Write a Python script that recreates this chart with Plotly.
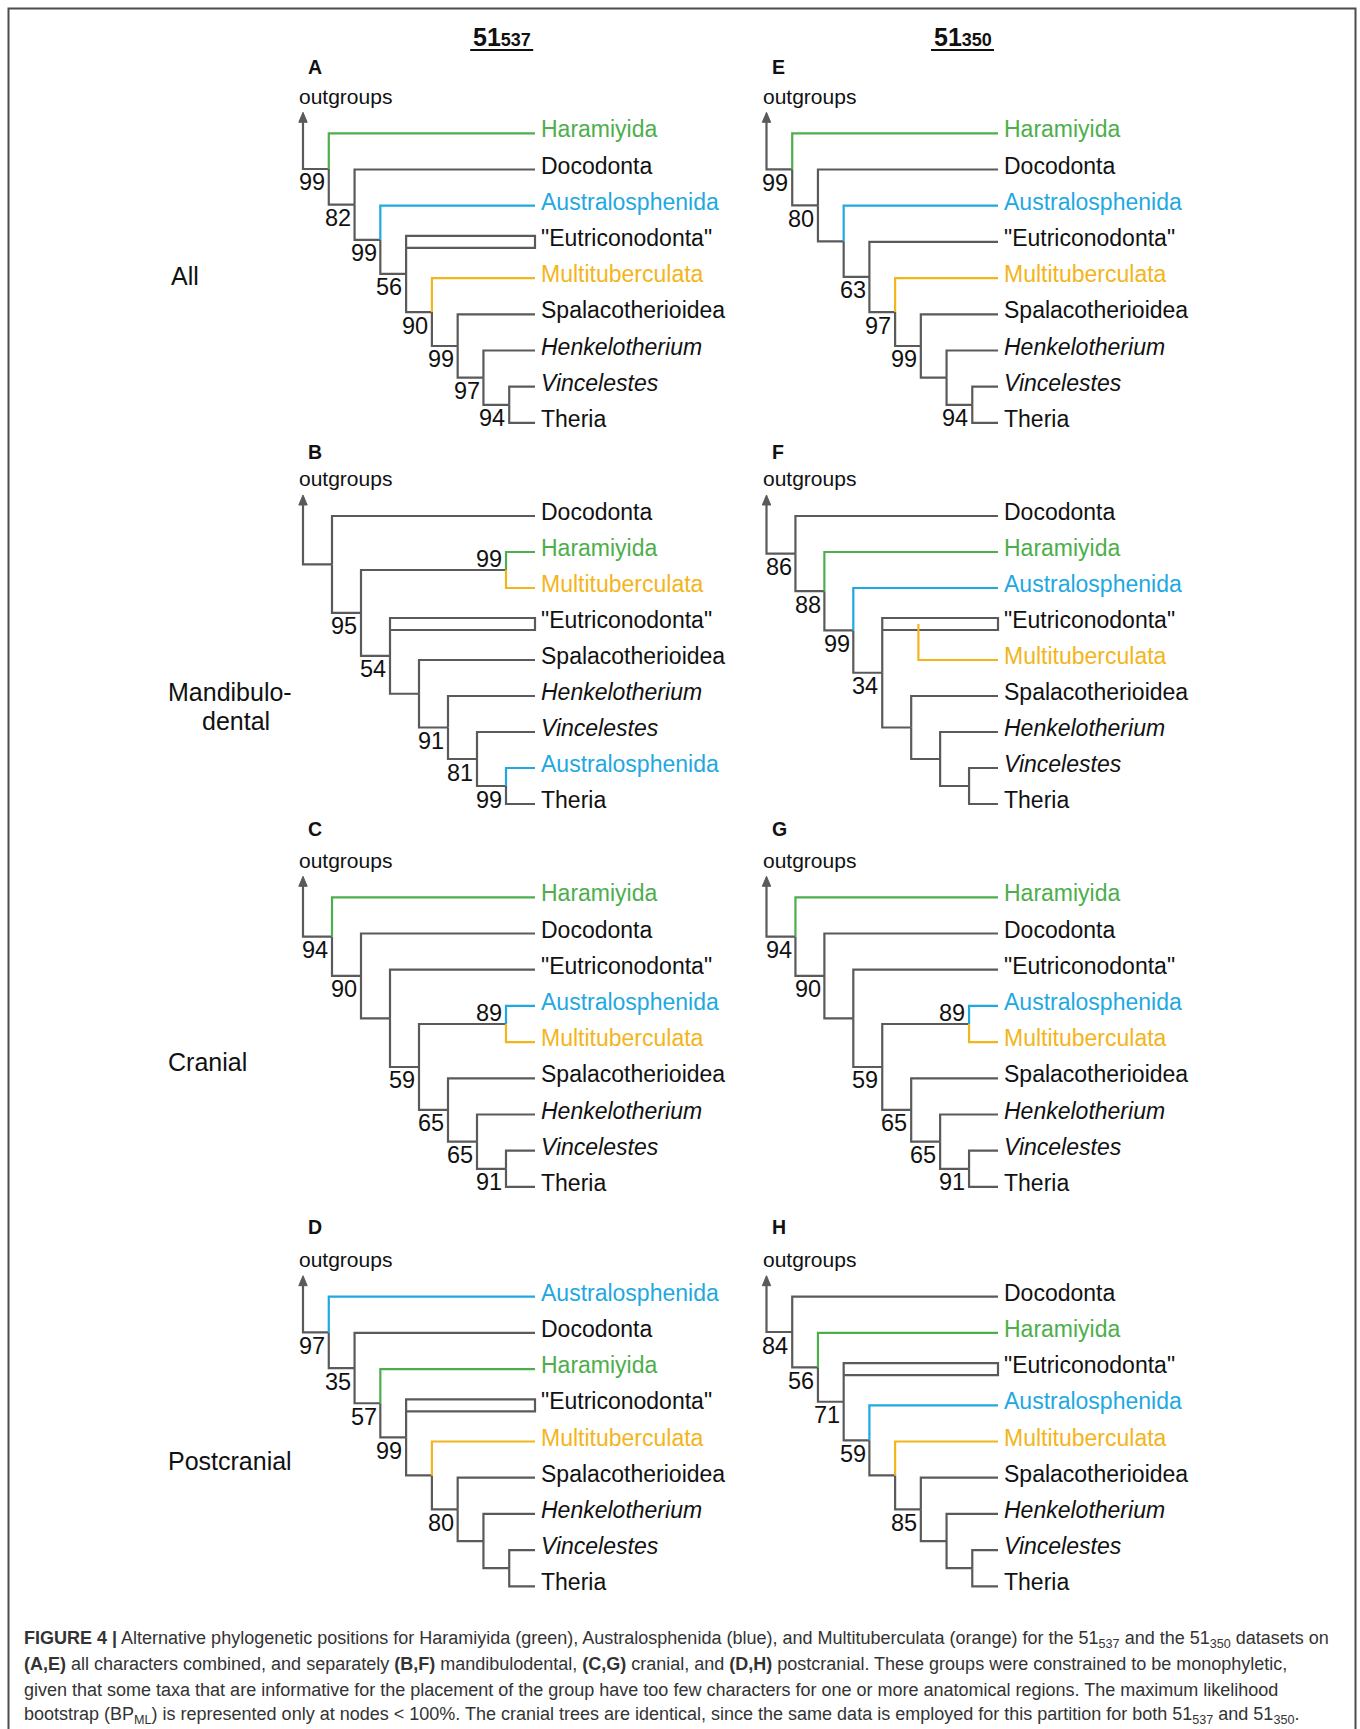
import plotly.graph_objects as go

# ---------------- taxa ----------------
HARA = "Haramiyida"
DOCO = "Docodonta"
AUST = "Australosphenida"
EUTRI = '"Eutriconodonta"'
MULT = "Multituberculata"
SPAL = "Spalacotherioidea"
HENK = "Henkelotherium"
VINC = "Vincelestes"
THER = "Theria"

ITALIC_TAXA = [HENK, VINC]
CLADE_COLORS = {HARA: "#4DAE4C", AUST: "#1FA8E1", MULT: "#F3B51C"}

# ---------------- trees ----------------
# Each internal node: [bootstrap BP_ML, upper child, lower child]; None = 100 %.
# A tuple is a paraphyletic grade with a taxon nested inside it.
TREE_A = [99, HARA, [82, DOCO, [99, AUST, [56, EUTRI, [90, MULT, [99, SPAL, [97, HENK, [94, VINC, THER]]]]]]]]
TREE_B = [None, DOCO, [95, [99, HARA, MULT], [54, EUTRI, [None, SPAL, [91, HENK, [81, VINC, [99, AUST, THER]]]]]]]
TREE_C = [94, HARA, [90, DOCO, [None, EUTRI, [59, [89, AUST, MULT], [65, SPAL, [65, HENK, [91, VINC, THER]]]]]]]
TREE_D = [97, AUST, [35, DOCO, [57, HARA, [99, EUTRI, [None, MULT, [80, SPAL, [None, HENK, [None, VINC, THER]]]]]]]]
TREE_E = [99, HARA, [80, DOCO, [None, AUST, [63, EUTRI, [97, MULT, [99, SPAL, [None, HENK, [94, VINC, THER]]]]]]]]
TREE_F = [86, DOCO, [88, HARA, [99, AUST, [34, (EUTRI, MULT), [None, SPAL, [None, HENK, [None, VINC, THER]]]]]]]
TREE_G = [94, HARA, [90, DOCO, [None, EUTRI, [59, [89, AUST, MULT], [65, SPAL, [65, HENK, [91, VINC, THER]]]]]]]
TREE_H = [84, DOCO, [56, HARA, [71, EUTRI, [59, AUST, [None, MULT, [85, SPAL, [None, HENK, [None, VINC, THER]]]]]]]]

TREES = [[TREE_A, TREE_B, TREE_C, TREE_D], [TREE_E, TREE_F, TREE_G, TREE_H]]
LETTERS = [["A", "B", "C", "D"], ["E", "F", "G", "H"]]
GRADE_PANELS = ["A", "B", "D", "F", "H"]   # Eutriconodonta drawn as an open grade
DATASETS = ["537", "350"]
ROW_NAMES = ["All", "Mandibulo-", "dental", "Cranial", "Postcranial"]

CAPTION = [
    "<b>FIGURE 4 |</b> Alternative phylogenetic positions for Haramiyida (green), Australosphenida (blue), and Multituberculata (orange) for the 51<sub>537</sub> and the 51<sub>350</sub> datasets on",
    "<b>(A,E)</b> all characters combined, and separately <b>(B,F)</b> mandibulodental, <b>(C,G)</b> cranial, and <b>(D,H)</b> postcranial. These groups were constrained to be monophyletic,",
    "given that some taxa that are informative for the placement of the group have too few characters for one or more anatomical regions. The maximum likelihood",
    "bootstrap (BP<sub>ML</sub>) is represented only at nodes &lt; 100%. The cranial trees are identical, since the same data is employed for this partition for both 51<sub>537</sub> and 51<sub>350</sub>.",
]

# ---------------- page geometry ----------------
W, H = 1360, 1729
FONT = "Liberation Sans, Arial, sans-serif"
GRAY = "#5A5A5A"
INK = "#111111"
COL_ROOT_X = [303, 766.5]
COL_TIP_X = [535, 998]
COL_HEAD_X = [501.7, 962.5]
ROW_LEAF0_Y = [133.3, 516, 897.3, 1296.7]
ROW_DY = [36.2, 36.0, 36.2, 36.2]
ROW_LETTER_Y = [67, 452, 829, 1227]
ROW_OUT_Y = [96, 478, 860, 1259]
BOX = 6

paths = {}          # color -> (xs, ys)
annotations = []


def add_path(color, xs, ys):
    px, py = paths.setdefault(color, ([], []))
    px.extend(list(xs) + [None])
    py.extend(list(ys) + [None])


def text(x, y, s, size=23, anchor="left", color=INK, bold=False):
    if bold:
        s = "<b>%s</b>" % s
    annotations.append(dict(x=x, y=y, xref="x", yref="y", text=s, showarrow=False,
                            xanchor=anchor, yanchor="middle",
                            font=dict(family=FONT, size=size, color=color)))


def tree_height(n):
    if isinstance(n, list):
        return 1 + max(tree_height(c) for c in n[1:])
    return 0


def draw_panel(tree, col, row, letter):
    x0, xt = COL_ROOT_X[col], COL_TIP_X[col]
    y0, dy = ROW_LEAF0_Y[row], ROW_DY[row]
    step = (xt - x0) / (tree_height(tree) + 1)
    grade = letter in GRADE_PANELS
    counter = [0]

    def build(n):
        if isinstance(n, list):
            kids = [build(c) for c in n[1:]]
            h = 1 + max(k["h"] for k in kids)
            y = (kids[0]["attach"] + kids[-1]["attach"]) / 2
            return dict(kind="node", support=n[0], kids=kids, h=h,
                        x=xt - step * h, y=y, attach=y, color=GRAY)
        names = list(n) if isinstance(n, tuple) else [n]
        r = counter[0]
        counter[0] += len(names)
        ys = [y0 + (r + i) * dy for i in range(len(names))]
        boxed = grade and names[0] == EUTRI
        return dict(kind="leaf", names=names, ys=ys, y=ys[0], h=0, x=xt,
                    boxed=boxed, attach=ys[0] - BOX if boxed else ys[0],
                    color=CLADE_COLORS.get(names[0], GRAY))

    def label(name, y):
        s = "<i>%s</i>" % name if name in ITALIC_TAXA else name
        text(xt + 4, y - 4, s, color=CLADE_COLORS.get(name, INK))

    def support(nd, upper):
        if nd["support"] is None:
            return
        dyl = -11.5 if upper else 13.5
        text(nd["x"] - 1.8, nd["y"] + dyl, str(nd["support"]), size=23.5, anchor="right")

    def draw(nd, px, py, upper):
        c = nd["color"]
        if nd["kind"] == "node":
            add_path(c, [px, px, nd["x"]], [py, nd["y"], nd["y"]])
            support(nd, upper)
            for i, k in enumerate(nd["kids"]):
                draw(k, nd["x"], nd["y"], i == 0)
            return
        y = nd["y"]
        if nd["boxed"]:
            add_path(c, [px, px, xt, xt, px],
                     [py, y - BOX, y - BOX, y + BOX, y + BOX])
        else:
            add_path(c, [px, px, xt], [py, y, y])
        label(nd["names"][0], y)
        for name, ry in zip(nd["names"][1:], nd["ys"][1:]):
            xn = px + step * 1.25
            add_path(CLADE_COLORS.get(name, GRAY), [xn, xn, xt], [y, ry, ry])
            label(name, ry)

    top = build(tree)
    tip_y = y0 - 21
    # outgroup arrow and root branch
    add_path(GRAY, [x0, x0, top["x"]], [tip_y + 8, top["y"], top["y"]])
    arrow_heads.append((x0, tip_y))
    support(top, False)
    for i, k in enumerate(top["kids"]):
        draw(k, top["x"], top["y"], i == 0)

    text(x0 + 3, ROW_LETTER_Y[row], letter, size=19.5, bold=True)
    text(x0 - 6, ROW_OUT_Y[row], "outgroups", size=21)


arrow_heads = []
for col in range(2):
    for row in range(4):
        draw_panel(TREES[col][row], col, row, LETTERS[col][row])

fig = go.Figure()

# figure frame
fig.add_trace(go.Scatter(x=[8.5, 8.5, 1355.5, 1355.5], y=[H, 8.5, 8.5, H], mode="lines",
                         line=dict(color="#4D4D4D", width=2), hoverinfo="skip"))

order = [GRAY] + [c for c in paths if c != GRAY]
for color in order:
    xs, ys = paths[color]
    fig.add_trace(go.Scatter(x=xs, y=ys, mode="lines", hoverinfo="skip",
                             line=dict(color=color, width=2.2)))

# arrowheads
ax, ay = [], []
for (x, y) in arrow_heads:
    ax += [x - 4.2, x, x + 4.2, x - 4.2, None]
    ay += [y + 10, y, y + 10, y + 10, None]
fig.add_trace(go.Scatter(x=ax, y=ay, mode="lines", fill="toself", fillcolor=GRAY,
                         line=dict(color=GRAY, width=1), hoverinfo="skip"))

# dataset headers with underline
ux, uy = [], []
for cx, ds in zip(COL_HEAD_X, DATASETS):
    text(cx, 37, "51<span style='font-size:18px'>%s</span>" % ds, size=25,
         anchor="center", bold=True)
    ux += [cx - 31.5, cx + 31.5, None]
    uy += [50, 50, None]
fig.add_trace(go.Scatter(x=ux, y=uy, mode="lines", line=dict(color=INK, width=2),
                         hoverinfo="skip"))

# partition names
text(169, 276, ROW_NAMES[0], size=25)
text(166, 692, ROW_NAMES[1], size=25)
text(236, 721, ROW_NAMES[2], size=25, anchor="center")
text(166, 1062, ROW_NAMES[3], size=25)
text(166, 1461, ROW_NAMES[4], size=25)

# caption
for i, line in enumerate(CAPTION):
    text(22, 1639 + i * 25.4, line, size=18, color="#333333")

fig.update_layout(
    width=W, height=H, margin=dict(l=0, r=0, t=0, b=0),
    paper_bgcolor="white", plot_bgcolor="white", showlegend=False,
    xaxis=dict(range=[0, W], visible=False, fixedrange=True),
    yaxis=dict(range=[H, 0], visible=False, fixedrange=True),
    annotations=annotations,
)

fig.write_html("out.html")
